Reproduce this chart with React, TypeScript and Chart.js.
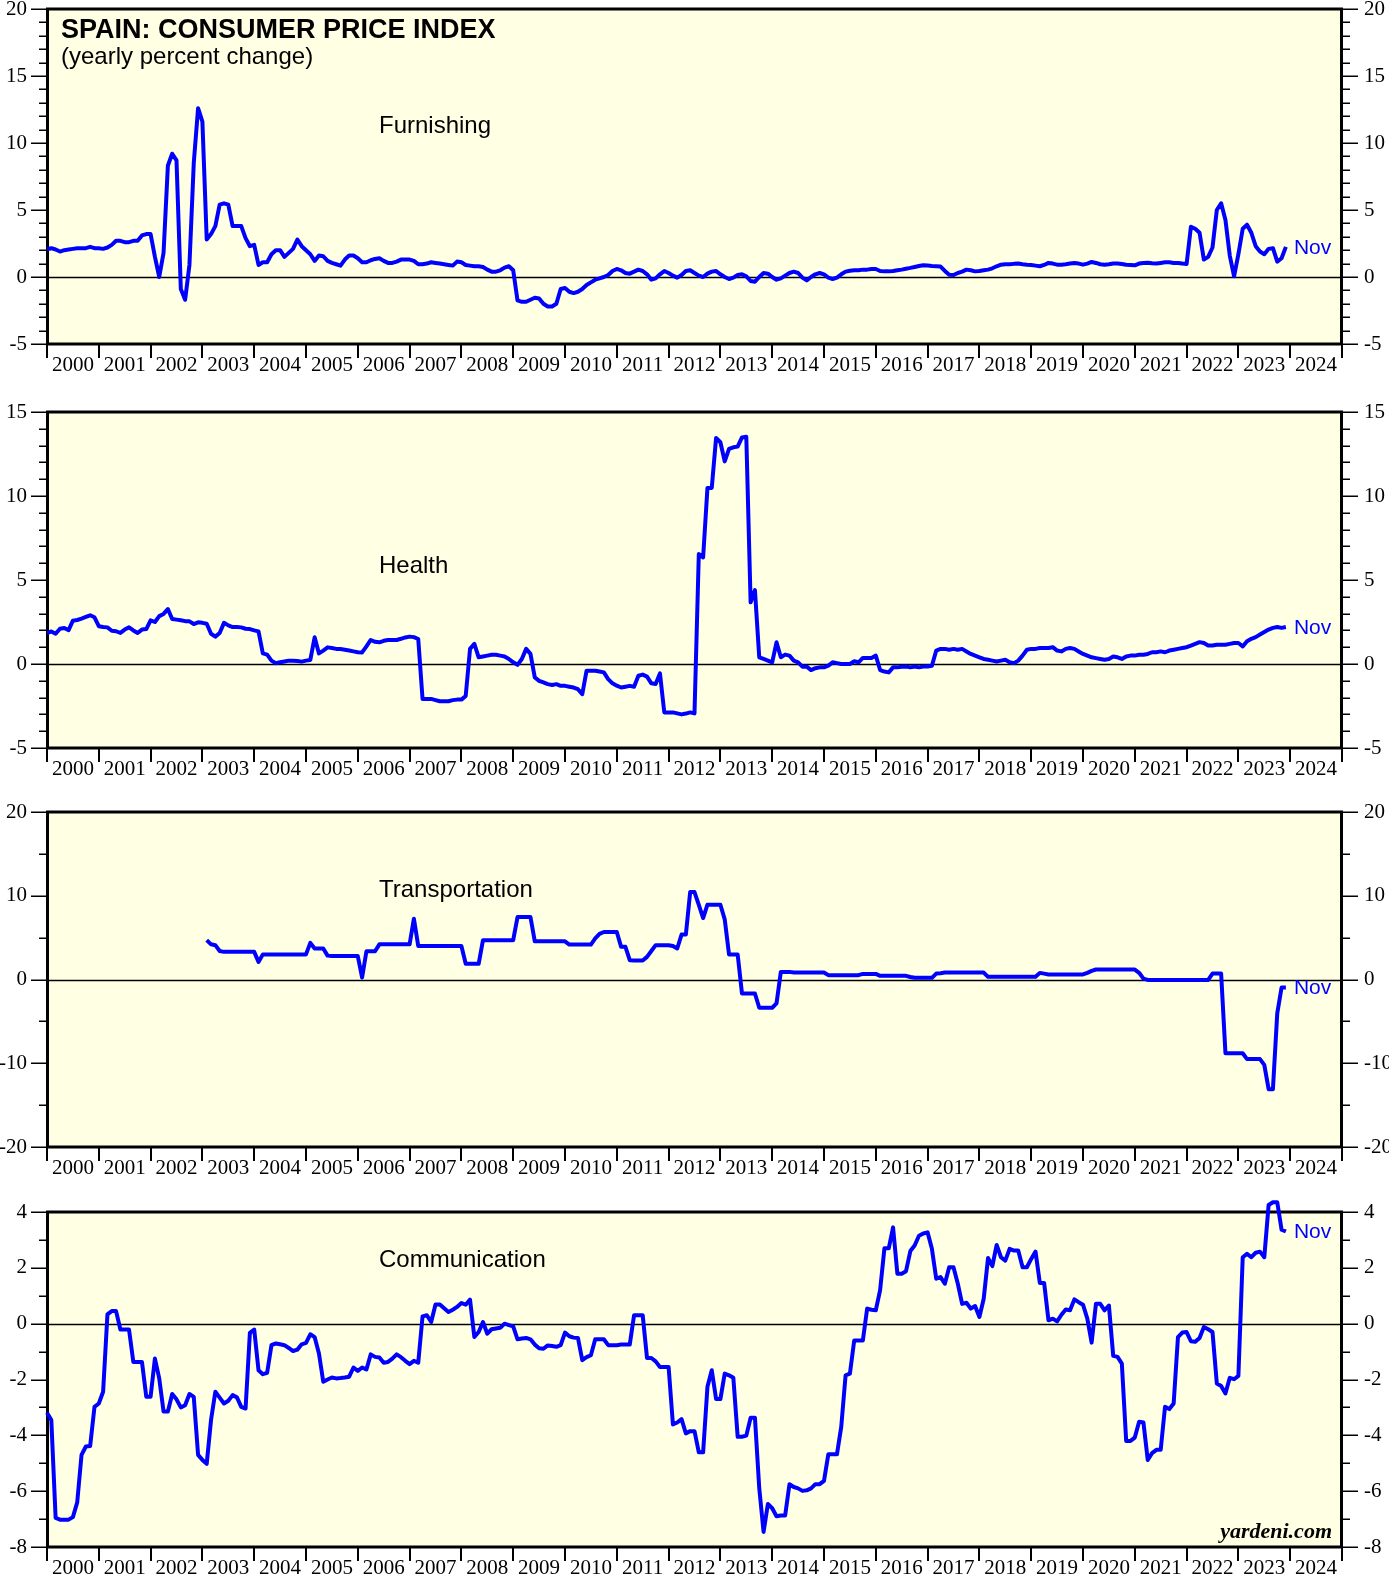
import React, { useEffect, useRef } from "react";
import { Chart, registerables } from "chart.js";

Chart.register(...registerables);

// ---------------- axis / label data ----------------
const YEAR_TICKS = [2000, 2001, 2002, 2003, 2004, 2005, 2006, 2007, 2008, 2009, 2010, 2011, 2012, 2013, 2014, 2015, 2016, 2017, 2018, 2019, 2020, 2021, 2022, 2023, 2024, 2025];
const YEAR_LABELS = ["2000", "2001", "2002", "2003", "2004", "2005", "2006", "2007", "2008", "2009", "2010", "2011", "2012", "2013", "2014", "2015", "2016", "2017", "2018", "2019", "2020", "2021", "2022", "2023", "2024"];
const LAST_MONTH_LABEL = "Nov";

const FURNISHING_Y_TICKS = [-5, 0, 5, 10, 15, 20];
const HEALTH_Y_TICKS = [-5, 0, 5, 10, 15];
const TRANSPORTATION_Y_TICKS = [-20, -10, 0, 10, 20];
const COMMUNICATION_Y_TICKS = [-8, -6, -4, -2, 0, 2, 4];

// first observation of each series: [year, month]; then one value per month
const FURNISHING_START = [1999, 12];
const HEALTH_START = [1999, 12];
const TRANSPORTATION_START = [2003, 1];
const COMMUNICATION_START = [1999, 12];

// ---------------- series (yearly % change) ----------------
const FURNISHING = [
  2.07,
  2.15, 2.05, 1.9, 2.0, 2.05, 2.1, 2.15, 2.15, 2.15, 2.25, 2.15, 2.15,
  2.1, 2.2, 2.4, 2.7, 2.7, 2.6, 2.6, 2.7, 2.7, 3.1, 3.2, 3.2,
  1.5, 0.0, 1.8, 8.3, 9.2, 8.7, -0.9, -1.7, 0.9, 8.5, 12.6, 11.6,
  2.8, 3.2, 3.8, 5.4, 5.5, 5.4, 3.8, 3.8, 3.8, 2.9, 2.3, 2.4,
  0.9, 1.1, 1.1, 1.7, 2.0, 2.0, 1.5, 1.8, 2.1, 2.8, 2.3, 2.0,
  1.7, 1.2, 1.6, 1.55, 1.2, 1.05, 0.95, 0.85, 1.3, 1.6, 1.6, 1.4,
  1.1, 1.1, 1.25, 1.35, 1.4, 1.2, 1.05, 1.05, 1.15, 1.3, 1.3, 1.3,
  1.2, 0.95, 0.95, 1.0, 1.1, 1.05, 1.0, 0.95, 0.9, 0.85, 1.15, 1.1,
  0.9, 0.85, 0.8, 0.8, 0.75, 0.55, 0.4, 0.4, 0.5, 0.7, 0.8, 0.5,
  -1.75, -1.85, -1.85, -1.7, -1.55, -1.6, -2.0, -2.2, -2.2, -2.0, -0.9, -0.82,
  -1.1, -1.2, -1.1, -0.9, -0.6, -0.4, -0.2, -0.1, 0.0, 0.15, 0.45, 0.6,
  0.5, 0.3, 0.25, 0.4, 0.55, 0.45, 0.2, -0.2, -0.1, 0.2, 0.45, 0.3,
  0.1, -0.05, 0.15, 0.45, 0.5, 0.3, 0.1, 0.0, 0.25, 0.4, 0.45, 0.2,
  0.0, -0.15, -0.05, 0.15, 0.2, 0.05, -0.3, -0.35, 0.0, 0.3, 0.25, 0.0,
  -0.2, -0.1, 0.1, 0.3, 0.4, 0.3, -0.05, -0.25, 0.0, 0.2, 0.3, 0.2,
  -0.05, -0.15, -0.05, 0.2, 0.4, 0.47, 0.5, 0.5, 0.55, 0.55, 0.6, 0.6,
  0.45, 0.42, 0.42, 0.45, 0.5, 0.55, 0.62, 0.68, 0.75, 0.82, 0.88, 0.85,
  0.82, 0.8, 0.78, 0.45, 0.17, 0.15, 0.3, 0.4, 0.55, 0.5, 0.42, 0.45,
  0.5, 0.55, 0.65, 0.8, 0.92, 0.95, 0.95, 0.98, 1.0, 0.95, 0.92, 0.9,
  0.85, 0.8, 0.9, 1.05, 1.0, 0.92, 0.92, 0.95, 1.0, 1.05, 1.0, 0.92,
  1.0, 1.12, 1.05, 0.95, 0.92, 0.95, 1.0, 1.0, 0.97, 0.92, 0.9, 0.87,
  1.0, 1.05, 1.07, 1.02, 1.0, 1.05, 1.1, 1.1, 1.05, 1.05, 1.0, 0.97,
  3.75, 3.6, 3.3, 1.3, 1.5, 2.2, 5.0, 5.5, 4.25, 1.6, 0.05, 1.7,
  3.6, 3.9, 3.3, 2.3, 1.9, 1.7, 2.1, 2.15, 1.15, 1.4, 2.25,
];

const HEALTH = [
  1.83,
  1.94, 1.8, 2.1, 2.14, 2.02, 2.58, 2.62, 2.7, 2.8, 2.9, 2.78, 2.25,
  2.2, 2.18, 1.98, 1.95, 1.85, 2.05, 2.18, 2.0, 1.85, 2.05, 2.08, 2.6,
  2.5, 2.85, 2.98, 3.27, 2.68, 2.64, 2.6, 2.55, 2.54, 2.38, 2.48, 2.45,
  2.4, 1.8, 1.63, 1.85, 2.45, 2.3, 2.2, 2.2, 2.18, 2.1, 2.08, 2.0,
  1.94, 0.63, 0.56, 0.2, 0.05, 0.1, 0.15, 0.2, 0.2, 0.18, 0.14, 0.2,
  0.24, 1.59, 0.63, 0.8, 0.99, 0.95, 0.9, 0.89, 0.85, 0.8, 0.75, 0.7,
  0.69, 1.05, 1.43, 1.32, 1.29, 1.38, 1.43, 1.43, 1.43, 1.5, 1.58, 1.63,
  1.6, 1.49, -2.08, -2.08, -2.08, -2.15, -2.22, -2.22, -2.22, -2.15, -2.12, -2.12,
  -1.9, 0.9, 1.2, 0.4, 0.45, 0.5, 0.55, 0.55, 0.5, 0.45, 0.3, 0.1,
  -0.05, 0.3, 0.9, 0.6, -0.8, -1.0, -1.1, -1.2, -1.25, -1.2, -1.3, -1.3,
  -1.35, -1.4, -1.5, -1.8, -0.4, -0.4, -0.4, -0.45, -0.5, -0.9, -1.15, -1.29,
  -1.4, -1.35, -1.3, -1.35, -0.7, -0.63, -0.75, -1.15, -1.19, -0.56, -2.88, -2.88,
  -2.88, -2.94, -3.0, -2.95, -2.88, -2.94, 6.55, 6.35, 10.48, 10.48, 13.45, 13.2,
  12.06, 12.8, 12.9, 12.94, 13.49, 13.53, 3.67, 4.4, 0.4, 0.3, 0.2, 0.1,
  1.29, 0.4, 0.56, 0.5, 0.2, 0.1, -0.16, -0.16, -0.36, -0.25, -0.2, -0.2,
  -0.1, 0.1, 0.05, 0.0, 0.0, 0.0, 0.16, 0.1, 0.36, 0.36, 0.36, 0.5,
  -0.36, -0.45, -0.5, -0.2, -0.2, -0.16, -0.15, -0.2, -0.15, -0.2, -0.15, -0.15,
  -0.1, 0.8, 0.9, 0.9, 0.85, 0.9, 0.85, 0.9, 0.75, 0.6, 0.5, 0.4,
  0.3, 0.25, 0.2, 0.15, 0.2, 0.25, 0.1, 0.05, 0.2, 0.5, 0.85, 0.9,
  0.9, 0.95, 0.95, 0.95, 1.0, 0.8, 0.75, 0.9, 0.95, 0.9, 0.75, 0.6,
  0.5, 0.4, 0.35, 0.3, 0.25, 0.3, 0.45, 0.4, 0.3, 0.45, 0.5, 0.5,
  0.55, 0.55, 0.6, 0.7, 0.7, 0.75, 0.7, 0.8, 0.85, 0.9, 0.95, 1.0,
  1.1, 1.2, 1.3, 1.25, 1.1, 1.1, 1.15, 1.15, 1.15, 1.2, 1.25, 1.25,
  1.05, 1.35, 1.5, 1.6, 1.75, 1.9, 2.05, 2.15, 2.2, 2.15, 2.2,
];

const TRANSPORTATION = [
  4.7, 4.2, 4.1, 3.4, 3.3, 3.3, 3.3, 3.3, 3.3, 3.3, 3.3, 3.3,
  2.1, 3.0, 3.0, 3.0, 3.0, 3.0, 3.0, 3.0, 3.0, 3.0, 3.0, 3.0,
  4.37, 3.7, 3.7, 3.7, 2.85, 2.8, 2.8, 2.8, 2.8, 2.8, 2.8, 2.8,
  0.24, 3.37, 3.37, 3.37, 4.2, 4.2, 4.2, 4.2, 4.2, 4.2, 4.2, 4.2,
  7.26, 4.0, 4.0, 4.0, 4.0, 4.0, 4.0, 4.0, 4.0, 4.0, 4.0, 4.0,
  1.87, 1.87, 1.87, 1.87, 4.7, 4.7, 4.7, 4.7, 4.7, 4.7, 4.7, 4.7,
  7.46, 7.46, 7.46, 7.46, 4.56, 4.56, 4.56, 4.56, 4.56, 4.56, 4.56, 4.56,
  4.17, 4.17, 4.17, 4.17, 4.17, 4.17, 4.9, 5.45, 5.67, 5.67, 5.67, 5.67,
  3.9, 3.9, 2.3, 2.26, 2.26, 2.26, 2.7, 3.4, 4.1, 4.1, 4.1, 4.1,
  4.0, 3.7, 5.36, 5.36, 10.44, 10.44, 8.9, 7.34, 8.93, 8.93, 8.93, 8.93,
  7.18, 2.98, 2.98, 2.98, -1.67, -1.67, -1.67, -1.67, -3.37, -3.37, -3.37, -3.37,
  -2.86, 0.91, 0.91, 0.91, 0.83, 0.83, 0.83, 0.83, 0.83, 0.83, 0.83, 0.83,
  0.52, 0.52, 0.52, 0.52, 0.52, 0.52, 0.52, 0.52, 0.67, 0.67, 0.67, 0.67,
  0.44, 0.44, 0.44, 0.44, 0.44, 0.44, 0.44, 0.3, 0.2, 0.2, 0.2, 0.2,
  0.2, 0.71, 0.75, 0.83, 0.83, 0.83, 0.83, 0.83, 0.83, 0.83, 0.83, 0.83,
  0.83, 0.32, 0.32, 0.32, 0.32, 0.32, 0.32, 0.32, 0.32, 0.32, 0.32, 0.32,
  0.32, 0.79, 0.7, 0.6, 0.6, 0.6, 0.6, 0.6, 0.6, 0.6, 0.6, 0.6,
  0.8, 1.03, 1.19, 1.19, 1.19, 1.19, 1.19, 1.19, 1.19, 1.19, 1.19, 1.19,
  0.8, 0.1, -0.05, -0.05, -0.05, -0.05, -0.05, -0.05, -0.05, -0.05, -0.05, -0.05,
  -0.05, -0.05, -0.05, -0.05, -0.05, 0.71, 0.71, 0.71, -8.8, -8.8, -8.8, -8.8,
  -8.8, -9.5, -9.5, -9.5, -9.5, -10.2, -13.1, -13.1, -4.05, -0.95, -0.95,
];

const COMMUNICATION = [
  -3.19,
  -3.45, -6.96, -7.02, -7.02, -7.02, -6.93, -6.4, -4.7, -4.4, -4.38, -2.98, -2.86,
  -2.44, 0.33, 0.45, 0.45, -0.21, -0.21, -0.21, -1.37, -1.37, -1.37, -2.62, -2.62,
  -1.25, -1.96, -3.15, -3.15, -2.52, -2.71, -3.0, -2.92, -2.52, -2.62, -4.7, -4.88,
  -5.02, -3.45, -2.44, -2.65, -2.86, -2.76, -2.56, -2.64, -2.98, -3.04, -0.33, -0.21,
  -1.67, -1.81, -1.76, -0.77, -0.71, -0.74, -0.77, -0.87, -0.98, -0.93, -0.74, -0.69,
  -0.38, -0.48, -1.07, -2.08, -2.0, -1.93, -1.96, -1.95, -1.93, -1.9, -1.57, -1.69,
  -1.57, -1.64, -1.1, -1.19, -1.21, -1.4, -1.37, -1.25, -1.1, -1.2, -1.33, -1.45,
  -1.33, -1.4, 0.26, 0.3, 0.06, 0.69, 0.69, 0.55, 0.42, 0.5, 0.6, 0.74,
  0.68, 0.86, -0.48, -0.3, 0.06, -0.36, -0.2, -0.17, -0.15, 0.0, -0.05, -0.1,
  -0.56, -0.53, -0.51, -0.56, -0.75, -0.88, -0.9, -0.78, -0.8, -0.83, -0.77, -0.32,
  -0.45, -0.5, -0.51, -1.31, -1.2, -1.13, -0.56, -0.56, -0.56, -0.77, -0.77, -0.77,
  -0.75, -0.75, -0.75, 0.3, 0.3, 0.3, -1.23, -1.23, -1.35, -1.55, -1.55, -1.55,
  -3.61, -3.54, -3.42, -3.93, -3.85, -3.85, -4.61, -4.61, -2.26, -1.67, -2.7, -2.7,
  -1.79, -1.85, -1.94, -4.05, -4.05, -4.01, -3.37, -3.37, -5.89, -7.46, -6.46, -6.61,
  -6.9, -6.87, -6.87, -5.75, -5.85, -5.9, -5.99, -5.97, -5.9, -5.75, -5.75, -5.63,
  -4.68, -4.68, -4.68, -3.69, -1.85, -1.79, -0.6, -0.6, -0.6, 0.54, 0.5, 0.48,
  1.2, 2.7, 2.7, 3.45, 1.79, 1.79, 1.88, 2.6, 2.8, 3.15, 3.23, 3.27,
  2.68, 1.61, 1.67, 1.43, 2.02, 2.02, 1.43, 0.71, 0.75, 0.54, 0.63, 0.24,
  0.89, 2.35, 2.06, 2.82, 2.38, 2.26, 2.68, 2.62, 2.62, 2.02, 2.02, 2.32,
  2.58, 1.46, 1.46, 0.12, 0.18, 0.08, 0.32, 0.51, 0.48, 0.87, 0.77, 0.68,
  0.18, -0.68, 0.71, 0.71, 0.48, 0.65, -1.15, -1.19, -1.43, -4.2, -4.2, -4.08,
  -3.51, -3.54, -4.88, -4.64, -4.52, -4.52, -2.98, -3.06, -2.86, -0.48, -0.32, -0.3,
  -0.63, -0.65, -0.51, -0.12, -0.2, -0.3, -2.14, -2.23, -2.5, -1.94, -1.99, -1.87,
  2.38, 2.5, 2.38, 2.54, 2.58, 2.38, 4.25, 4.35, 4.35, 3.37, 3.3,
];

// ---------------- styling ----------------
const BG = "rgb(255,255,228)";
const LINE = "#0000FF";
const SERIF = '"Liberation Serif", "Times New Roman", serif';
const SANS = '"Liberation Sans", Arial, sans-serif';

const PANELS = [
  { id: "furn", name: "Furnishing", values: FURNISHING, start: FURNISHING_START, min: -5, max: 20, minor: 1, ticks: FURNISHING_Y_TICKS, top: 0, height: 402, padTop: 9, padBottom: 58, nameDy: 124, title: true, watermark: false },
  { id: "health", name: "Health", values: HEALTH, start: HEALTH_START, min: -5, max: 15, minor: 1, ticks: HEALTH_Y_TICKS, top: 402, height: 400, padTop: 10, padBottom: 54, nameDy: 161, title: false, watermark: false },
  { id: "trans", name: "Transportation", values: TRANSPORTATION, start: TRANSPORTATION_START, min: -20, max: 20, minor: 5, ticks: TRANSPORTATION_Y_TICKS, top: 802, height: 400, padTop: 10, padBottom: 55, nameDy: 85, title: false, watermark: false },
  { id: "comm", name: "Communication", values: COMMUNICATION, start: COMMUNICATION_START, min: -8, max: 4, minor: 1, ticks: COMMUNICATION_Y_TICKS, top: 1190, height: 389, padTop: 22, padBottom: 32, nameDy: 55, title: false, watermark: true },
];

function Panel({ def }: { def: any }) {
  const ref = useRef<HTMLCanvasElement | null>(null);

  useEffect(() => {
    const canvas = ref.current;
    if (!canvas) return;
    const [sy, sm] = def.start;
    const points = def.values.map((v: number, i: number) => ({ x: sy + (sm + i) / 12, y: v }));

    const decor = {
      id: "decor",
      beforeDatasetsDraw(chart: any) {
        const { ctx, chartArea: a, scales } = chart;
        ctx.save();
        ctx.fillStyle = BG;
        ctx.fillRect(a.left, a.top, a.right - a.left, a.bottom - a.top);
        const y0 = Math.round(scales.y.getPixelForValue(0)) + 0.5;
        ctx.strokeStyle = "#000";
        ctx.lineWidth = 1.3;
        ctx.beginPath();
        ctx.moveTo(a.left, y0);
        ctx.lineTo(a.right, y0);
        ctx.stroke();
        ctx.lineWidth = 3;
        ctx.strokeRect(a.left + 0.5, a.top, a.right - a.left - 1, a.bottom - a.top);
        ctx.restore();
      },
      afterDraw(chart: any) {
        const { ctx, chartArea: a, scales } = chart;
        const xs = scales.x;
        const ys = scales.y;
        ctx.save();
        ctx.strokeStyle = "#000";
        ctx.fillStyle = "#000";
        // y ticks both sides
        ctx.lineWidth = 1.5;
        const n = Math.round((def.max - def.min) / def.minor);
        for (let j = 0; j <= n; j++) {
          const v = def.min + j * def.minor;
          const py = Math.round(ys.getPixelForValue(v)) + 0.25;
          const major = def.ticks.includes(v);
          const len = major ? 16 : 8;
          ctx.beginPath();
          ctx.moveTo(a.left - len, py);
          ctx.lineTo(a.left, py);
          ctx.moveTo(a.right, py);
          ctx.lineTo(a.right + len, py);
          ctx.stroke();
        }
        ctx.font = `21px ${SERIF}`;
        ctx.textBaseline = "middle";
        def.ticks.forEach((v: number) => {
          const py = ys.getPixelForValue(v);
          ctx.textAlign = "right";
          ctx.fillText(String(v), a.left - 20, py);
          ctx.textAlign = "left";
          ctx.fillText(String(v), a.right + 22, py);
        });
        // year ticks & labels
        ctx.lineWidth = 2;
        YEAR_TICKS.forEach((yr) => {
          const px = Math.round(xs.getPixelForValue(yr));
          ctx.beginPath();
          ctx.moveTo(px, a.bottom);
          ctx.lineTo(px, a.bottom + 14);
          ctx.stroke();
        });
        ctx.textAlign = "center";
        ctx.textBaseline = "alphabetic";
        YEAR_LABELS.forEach((lab, i) => {
          ctx.fillText(lab, xs.getPixelForValue(YEAR_TICKS[i] + 0.5), a.bottom + 27);
        });
        // series name
        ctx.textAlign = "left";
        ctx.font = `24px ${SANS}`;
        ctx.fillText(def.name, a.left + 332, a.top + def.nameDy);
        // title
        if (def.title) {
          ctx.font = `bold 27px ${SANS}`;
          ctx.fillText("SPAIN: CONSUMER PRICE INDEX", a.left + 14, a.top + 29);
          ctx.font = `24px ${SANS}`;
          ctx.fillText("(yearly percent change)", a.left + 14, a.top + 55);
        }
        // last-month label
        let last = points.length - 1;
        while (last >= 0 && points[last].y == null) last--;
        if (last >= 0) {
          ctx.fillStyle = LINE;
          ctx.font = `21px ${SANS}`;
          ctx.textBaseline = "middle";
          ctx.fillText(LAST_MONTH_LABEL, xs.getPixelForValue(points[last].x) + 8, ys.getPixelForValue(points[last].y) + 1);
        }
        if (def.watermark) {
          ctx.fillStyle = "#000";
          ctx.font = `bold italic 22px ${SERIF}`;
          ctx.textAlign = "right";
          ctx.textBaseline = "alphabetic";
          ctx.fillText("yardeni.com", a.right - 10, a.bottom - 9);
        }
        ctx.restore();
      },
    };

    const chart = new Chart(canvas, {
      type: "line",
      data: {
        datasets: [
          {
            data: points,
            borderColor: LINE,
            borderWidth: 4,
            pointRadius: 0,
            pointHoverRadius: 0,
            tension: 0,
            fill: false,
            clip: false,
            borderJoinStyle: "round",
            spanGaps: false,
          } as any,
        ],
      },
      options: {
        responsive: false,
        maintainAspectRatio: false,
        animation: false,
        devicePixelRatio: 1,
        events: [],
        layout: { padding: { left: 47, right: 47, top: def.padTop, bottom: def.padBottom } },
        scales: {
          x: { type: "linear", min: 2000, max: 2025, display: false },
          y: { type: "linear", min: def.min, max: def.max, display: false },
        },
        plugins: { legend: { display: false }, tooltip: { enabled: false }, title: { display: false } },
      },
      plugins: [decor],
    } as any);
    return () => chart.destroy();
  }, [def]);

  return (
    <canvas
      ref={ref}
      width={1389}
      height={def.height}
      style={{ position: "absolute", left: 0, top: def.top, width: 1389, height: def.height, display: "block" }}
    />
  );
}

export default function App() {
  return (
    <div style={{ position: "absolute", left: 0, top: 0, width: 1389, height: 1579, overflow: "hidden", background: "#fff" }}>
      {PANELS.map((p) => (
        <Panel key={p.id} def={p} />
      ))}
    </div>
  );
}
